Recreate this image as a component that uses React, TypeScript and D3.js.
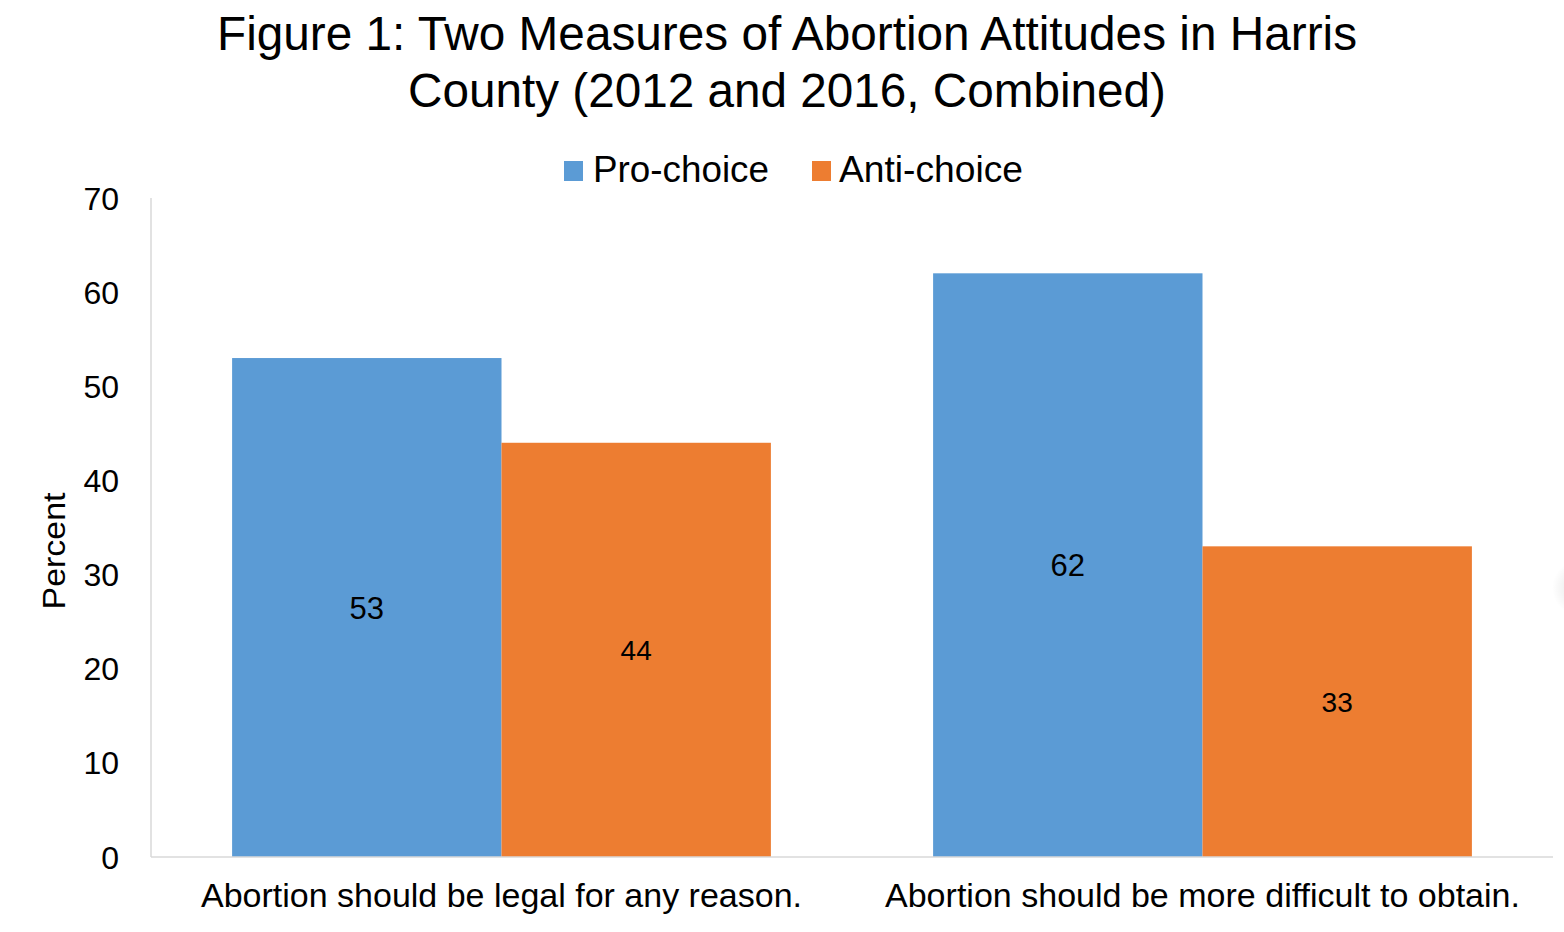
import React from "react";
import * as d3 from "d3";

const categories = [
  "Abortion should be legal for any reason.",
  "Abortion should be more difficult to obtain.",
];
const seriesNames = ["Pro-choice", "Anti-choice"];
const proChoice = [53, 62];
const antiChoice = [44, 33];
const yTicks = [0, 10, 20, 30, 40, 50, 60, 70];
const titleLines = [
  "Figure 1: Two Measures of Abortion Attitudes in Harris",
  "County (2012 and 2016, Combined)",
];

const W = 1564;
const H = 932;
const colors = ["#5b9bd5", "#ed7d31"];
const FONT = "Liberation Sans, Arial, Helvetica, sans-serif";

export default function App() {
  const left = 151;
  const right = 1553;
  const top = 198;
  const bottom = 857;

  const y = d3.scaleLinear().domain([0, 70]).range([bottom, top]);
  const x0 = d3.scaleBand().domain(categories).range([left, right]).paddingInner(0.2314).paddingOuter(0.1157);
  const x1 = d3.scaleBand().domain(seriesNames).range([0, x0.bandwidth()]).padding(0);

  const series = [proChoice, antiChoice];
  const labelSizes = [31, 28];
  const xLabelLengths = [601, 635];
  const titleLengths = [1140, 758];
  const titleBaselines = [50, 107];
  const legendItems = [
    { sx: 564, tx: 593, len: 176 },
    { sx: 812, tx: 839, len: 184 },
  ];

  return (
    <svg
      width={W}
      height={H}
      style={{ position: "absolute", left: 0, top: 0, background: "#fff" }}
      fontFamily={FONT}
    >
      <defs>
        <radialGradient id="shadow">
          <stop offset="0%" stopColor="#000" stopOpacity={0.12} />
          <stop offset="100%" stopColor="#000" stopOpacity={0} />
        </radialGradient>
      </defs>
      <rect x={0} y={0} width={W} height={H} fill="#fff" />
      {/* Title */}
      {titleLines.map((t, i) => (
        <text
          key={t}
          x={787}
          y={titleBaselines[i]}
          textAnchor="middle"
          fontSize={48}
          fill="#000"
          textLength={titleLengths[i]}
          lengthAdjust="spacingAndGlyphs"
        >
          {t}
        </text>
      ))}
      {/* Legend */}
      {seriesNames.map((s, i) => (
        <g key={s}>
          <rect x={legendItems[i].sx} y={161} width={19} height={20} fill={colors[i]} />
          <text
            x={legendItems[i].tx}
            y={182}
            fontSize={36}
            fill="#000"
            textLength={legendItems[i].len}
            lengthAdjust="spacingAndGlyphs"
          >
            {s}
          </text>
        </g>
      ))}
      {/* Bars */}
      {categories.map((c, ci) => (
        <g key={c} transform={`translate(${x0(c)},0)`}>
          {seriesNames.map((s, si) => {
            const v = series[si][ci];
            const bx = x1(s)!;
            const bw = x1.bandwidth();
            return (
              <g key={s}>
                <rect x={bx} y={y(v)} width={bw} height={y(0) - y(v)} fill={colors[si]} />
                <text
                  x={bx + bw / 2}
                  y={(y(v) + y(0)) / 2}
                  dy="0.36em"
                  textAnchor="middle"
                  fontSize={labelSizes[si]}
                  fill="#000"
                >
                  {v}
                </text>
              </g>
            );
          })}
        </g>
      ))}
      {/* Axes */}
      <line x1={left} x2={left} y1={top} y2={bottom} stroke="#d9d9d9" strokeWidth={1.5} />
      <line x1={left} x2={right} y1={bottom} y2={bottom} stroke="#d9d9d9" strokeWidth={1.5} />
      {yTicks.map((t) => (
        <text key={t} x={119} y={y(t)} dy="0.36em" textAnchor="end" fontSize={32} fill="#000">
          {t}
        </text>
      ))}
      {categories.map((c, i) => (
        <text
          key={c}
          x={x0(c)! + x0.bandwidth() / 2}
          y={907}
          textAnchor="middle"
          fontSize={33}
          fill="#000"
          textLength={xLabelLengths[i]}
          lengthAdjust="spacingAndGlyphs"
        >
          {c}
        </text>
      ))}
      <text
        transform={`translate(65,551) rotate(-90)`}
        textAnchor="middle"
        fontSize={32}
        fill="#000"
        textLength={117}
        lengthAdjust="spacingAndGlyphs"
      >
        Percent
      </text>
      <circle cx={1580} cy={588} r={28} fill="url(#shadow)" />
    </svg>
  );
}
